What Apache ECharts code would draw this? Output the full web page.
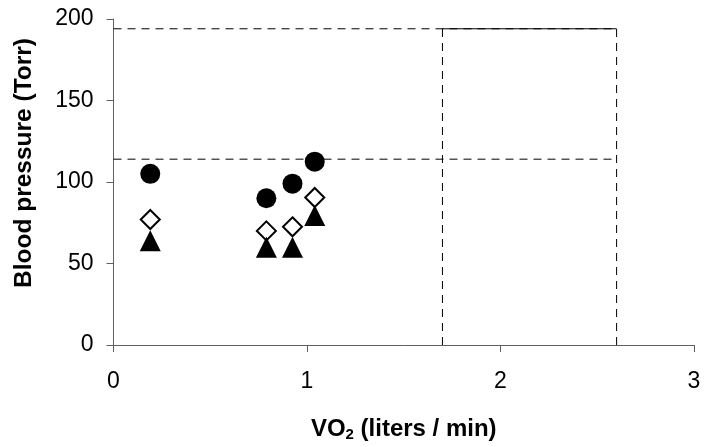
<!DOCTYPE html>
<html>
<head>
<meta charset="utf-8">
<script src="https://cdn.jsdelivr.net/npm/echarts@6/dist/echarts.min.js"></script>
<style>
  html, body { margin: 0; padding: 0; background: #fff; }
  #chart { width: 705px; height: 447px; }
</style>
</head>
<body>
<div id="chart"></div>
<script>
// Oxygen uptake (liters/min) at each measurement
const vo2 = [0.19, 0.79, 0.925, 1.04];
// Blood pressure readings (Torr)
const systolic = [105, 90, 99, 112.5];
const meanPressure = [77, 70, 72.5, 90.5];
const diastolic = [64, 60, 60, 79.5];

// Reference limits: VO2 band and pressure band
const refVo2 = [1.7, 2.6];
const refPressure = [114, 194];

const xTicks = [0, 1, 2, 3];
const yTicks = [0, 50, 100, 150, 200];

const pairs = (xs, ys) => xs.map((x, i) => [x, ys[i]]);

const FONT = '"Liberation Sans", Arial, sans-serif';
const AXIS_COLOR = '#606060';

const dashed = { color: '#000', width: 1, type: [8, 6] };

// Reference line segments built from the band limits
const refSegments = [
  { data: [[0, refPressure[0]], [refVo2[1], refPressure[0]]], style: dashed },
  { data: [[0, refPressure[1]], [refVo2[1], refPressure[1]]], style: dashed },
  { data: [[refVo2[0], 0], [refVo2[0], refPressure[1]]], style: dashed },
  { data: [[refVo2[1], 0], [refVo2[1], refPressure[1]]], style: dashed },
  { data: [[refVo2[0], refPressure[1]], [refVo2[1], refPressure[1]]], style: { color: '#000', width: 1, type: 'solid' } }
];

const chart = echarts.init(document.getElementById('chart'), null, { renderer: 'canvas' });

chart.setOption({
  animation: false,
  backgroundColor: '#fff',
  grid: { left: 113.5, right: 11, top: 19, bottom: 102 },
  xAxis: {
    type: 'value',
    min: xTicks[0],
    max: xTicks[xTicks.length - 1],
    interval: 1,
    splitLine: { show: false },
    axisLine: { onZero: false, lineStyle: { color: AXIS_COLOR, width: 1 } },
    axisTick: { show: true, length: 7, inside: false, lineStyle: { color: AXIS_COLOR } },
    axisLabel: { color: '#000', fontFamily: FONT, fontSize: 23, margin: 25 },
    name: 'VO{sub|2} (liters / min)',
    nameLocation: 'middle',
    nameGap: 72,
    nameTextStyle: {
      color: '#000', fontFamily: FONT, fontSize: 24, fontWeight: 'bold',
      rich: {
        sub: { fontFamily: FONT, fontSize: 15, fontWeight: 'bold', verticalAlign: 'bottom', padding: [10, 0, 0, 0] }
      }
    }
  },
  yAxis: {
    type: 'value',
    min: yTicks[0],
    max: yTicks[yTicks.length - 1],
    interval: 50,
    splitLine: { show: false },
    axisLine: { show: true, onZero: false, lineStyle: { color: AXIS_COLOR, width: 1 } },
    axisTick: { show: true, length: 7, inside: false, lineStyle: { color: AXIS_COLOR } },
    axisLabel: { color: '#000', fontFamily: FONT, fontSize: 23, margin: 20 },
    name: 'Blood pressure (Torr)',
    nameLocation: 'middle',
    nameRotate: 90,
    nameGap: 77,
    nameTextStyle: { color: '#000', fontFamily: FONT, fontSize: 24.5, fontWeight: 'bold', padding: [0, 0, 0, 38] }
  },
  series: [
    ...refSegments.map(s => ({
      type: 'line',
      data: s.data,
      symbol: 'none',
      lineStyle: s.style,
      silent: true,
      z: 1
    })),
    {
      name: 'Systolic',
      type: 'scatter',
      data: pairs(vo2, systolic),
      symbol: 'circle',
      symbolSize: 20,
      itemStyle: { color: '#000', opacity: 1 },
      z: 3
    },
    {
      name: 'Mean',
      type: 'scatter',
      data: pairs(vo2, meanPressure),
      symbol: 'diamond',
      symbolSize: [19, 19],
      itemStyle: { color: '#fff', borderColor: '#000', borderWidth: 2, opacity: 1 },
      z: 3
    },
    {
      name: 'Diastolic',
      type: 'scatter',
      data: pairs(vo2, diastolic),
      symbol: 'triangle',
      symbolSize: [21, 21],
      itemStyle: { color: '#000', opacity: 1 },
      z: 4
    }
  ]
});
</script>
</body>
</html>
